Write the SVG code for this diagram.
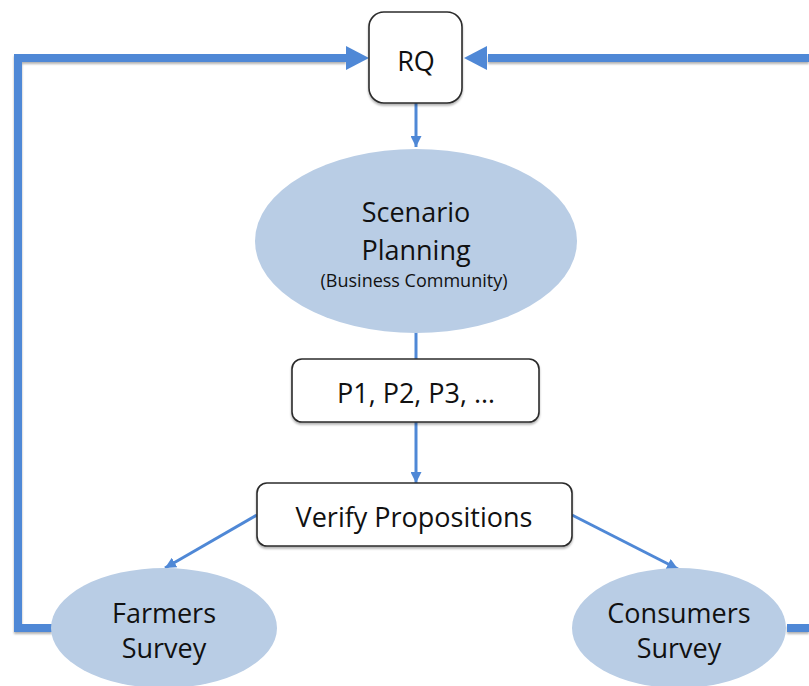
<svg xmlns="http://www.w3.org/2000/svg" width="809" height="686" viewBox="0 0 809 686">
  <style>
    .box { fill: #ffffff; stroke: #2b2b2b; stroke-width: 1.6; }
    .oval { fill: #b9cde5; }
    .lbl { font-family: "Open Sans", "Liberation Sans", sans-serif; font-size: 27px; fill: #111111; text-anchor: middle; }
    .small { font-size: 18px; }
    .thick { fill: none; stroke: #4f88d6; stroke-width: 8; }
    .thin { fill: none; stroke: #4f88d6; stroke-width: 3; }
  </style>
  <defs>
    <filter id="shade" x="-10%" y="-10%" width="120%" height="130%">
      <feDropShadow dx="0" dy="2" stdDeviation="1.2" flood-color="#000" flood-opacity="0.3"/>
    </filter>
    <marker id="headSmall" viewBox="0 0 10 10" refX="10" refY="5" markerWidth="11" markerHeight="11" markerUnits="userSpaceOnUse" orient="auto">
      <path d="M0,0 L10,5 L0,10 Z" fill="#4f88d6"/>
    </marker>
  </defs>

  <!-- connectors -->
  <g id="connectors">
    <g filter="url(#shade)">
      <path class="thick" d="M52,628 L18,628 L18,58 L346,58"/>
      <path class="thick" d="M809,58 L488,58"/>
      <path class="thick" d="M787,628 L809,628"/>
    </g>
    <path d="M346,46 L369,58 L346,70 Z" fill="#4f88d6"/>
    <path d="M487,46 L464,58 L487,70 Z" fill="#4f88d6"/>
    <path class="thin" d="M416,103 L416,147" marker-end="url(#headSmall)"/>
    <path class="thin" d="M416,332 L416,360"/>
    <path class="thin" d="M416,422 L416,483" marker-end="url(#headSmall)"/>
    <path class="thin" d="M257,515 L165,568" marker-end="url(#headSmall)"/>
    <path class="thin" d="M572,515 L678,569" marker-end="url(#headSmall)"/>
  </g>

  <g id="rq">
    <rect class="box" x="369" y="12" width="93" height="91" rx="15" filter="url(#shade)"/>
    <text class="lbl" x="416" y="71">RQ</text>
  </g>

  <g id="scenario">
    <ellipse class="oval" cx="416" cy="241" rx="161" ry="92"/>
    <text class="lbl" x="416" y="222">Scenario</text>
    <text class="lbl" x="416" y="260">Planning</text>
    <text class="lbl small" x="414" y="287">(Business Community)</text>
  </g>

  <g id="propositions">
    <rect class="box" x="292" y="359" width="247" height="63" rx="10" filter="url(#shade)"/>
    <text class="lbl" x="416" y="403">P1, P2, P3, …</text>
  </g>

  <g id="verify">
    <rect class="box" x="257" y="483" width="315" height="63" rx="10" filter="url(#shade)"/>
    <text class="lbl" x="414" y="527">Verify Propositions</text>
  </g>

  <g id="farmers">
    <ellipse class="oval" cx="164" cy="628" rx="113" ry="60"/>
    <text class="lbl" x="164" y="623">Farmers</text>
    <text class="lbl" x="164" y="658">Survey</text>
  </g>

  <g id="consumers">
    <ellipse class="oval" cx="679" cy="628" rx="107" ry="60"/>
    <text class="lbl" x="679" y="623">Consumers</text>
    <text class="lbl" x="679" y="658">Survey</text>
  </g>
</svg>
